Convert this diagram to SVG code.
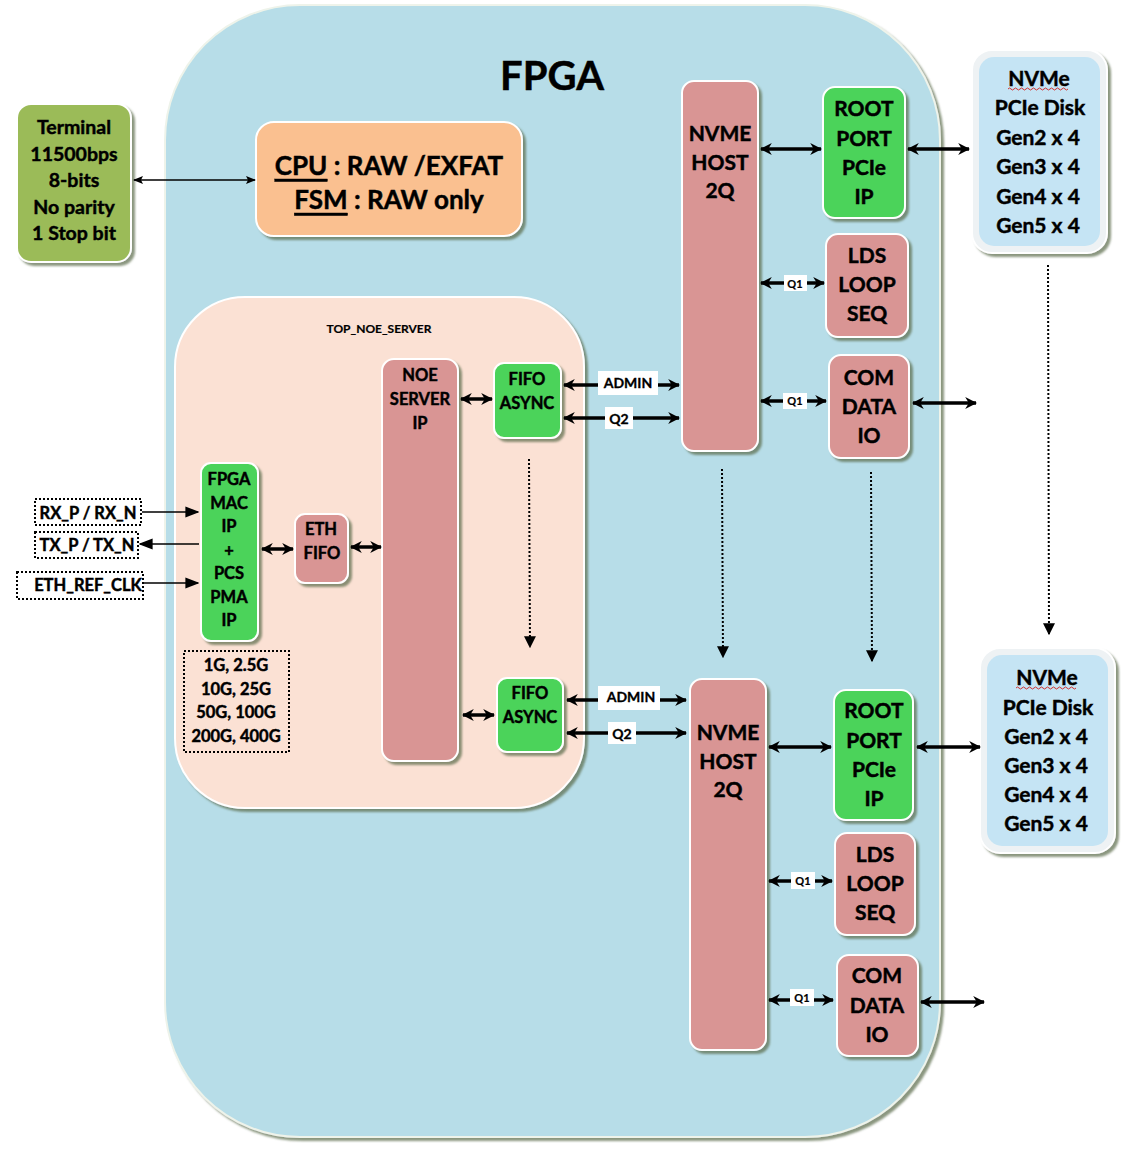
<svg xmlns="http://www.w3.org/2000/svg" width="1141" height="1149" viewBox="0 0 1141 1149">
<style>
text{font-family:Lato,"Open Sans","Liberation Sans",sans-serif;font-weight:bold;fill:#000;stroke:#000;stroke-width:0.45;text-anchor:middle;dominant-baseline:central}
.red{fill:#d99594;stroke:#fff;stroke-width:2}
.grn{fill:#4cd35a;stroke:#fff;stroke-width:2}
.t21{font-size:21px}
.t17{font-size:16.5px}
.t20{font-size:19.5px}
.thick{stroke:#000;stroke-width:3.5;fill:none;marker-start:url(#ah);marker-end:url(#ah)}
.thin{stroke:#000;stroke-width:1.5;fill:none}
.dot{stroke:#000;stroke-width:2;stroke-dasharray:2 2;fill:none;marker-end:url(#dh)}
.lbl{fill:#fff}
.dbox{fill:#fff;stroke:#000;stroke-width:2;stroke-dasharray:2 2}
</style>
<defs>
<filter id="sh" x="-20%" y="-20%" width="140%" height="140%">
<feDropShadow dx="3" dy="3" stdDeviation="1.2" flood-color="#5a6b4a" flood-opacity="0.7"/>
</filter>
<marker id="ah" viewBox="0 0 10 10" refX="9" refY="5" markerWidth="12" markerHeight="12" markerUnits="userSpaceOnUse" orient="auto-start-reverse">
<path d="M0,0 L10,5 L0,10 L3,5 Z" fill="#000"/>
</marker>
<marker id="th" viewBox="0 0 10 10" refX="9" refY="5" markerWidth="10" markerHeight="10" markerUnits="userSpaceOnUse" orient="auto-start-reverse">
<path d="M0,1 L10,5 L0,9 L2,5 Z" fill="#000"/>
</marker>
<marker id="tf" viewBox="0 0 10 10" refX="9" refY="5" markerWidth="14" markerHeight="14" markerUnits="userSpaceOnUse" orient="auto-start-reverse">
<path d="M0,1 L10,5 L0,9 Z" fill="#000"/>
</marker>
<marker id="dh" viewBox="0 0 10 10" refX="9" refY="5" markerWidth="12" markerHeight="12" markerUnits="userSpaceOnUse" orient="auto">
<path d="M0,0 L10,5 L0,10 Z" fill="#000"/>
</marker>
</defs>

<rect width="1141" height="1149" fill="#fff"/>

<g id="fpga">
<rect x="165" y="5" width="775" height="1132" rx="135" ry="135" fill="#b7dde8" stroke="#eef3ea" stroke-width="2" filter="url(#sh)"/>
<text x="552" y="75" style="font-size:40px">FPGA</text>
</g>

<g id="top_noe_server">
<rect x="175" y="297" width="409" height="511" rx="70" ry="70" fill="#fbe1d4" stroke="#fff" stroke-width="2" filter="url(#sh)"/>
<text x="379" y="328" style="font-size:12px;stroke-width:0.2">TOP_NOE_SERVER</text>
</g>

<g id="terminal">
<rect x="17" y="104" width="114" height="158" rx="14" fill="#9bbb59" stroke="#fff" stroke-width="2" filter="url(#sh)"/>
<text x="74" y="126" class="t20">Terminal</text>
<text x="74" y="153" class="t20">11500bps</text>
<text x="74" y="179" class="t20">8-bits</text>
<text x="74" y="206" class="t20">No parity</text>
<text x="74" y="232" class="t20">1 Stop bit</text>
</g>

<g id="cpu">
<rect x="256" y="122" width="266" height="114" rx="18" fill="#fac090" stroke="#fff" stroke-width="2" filter="url(#sh)"/>
<text x="389" y="165" style="font-size:26px"><tspan text-decoration="underline">CPU</tspan> : RAW /EXFAT</text>
<text x="389" y="199" style="font-size:26px"><tspan text-decoration="underline">FSM</tspan> : RAW only</text>
</g>

<g id="nvme_host_1">
<rect x="682" y="81" width="76" height="370" rx="12" class="red" filter="url(#sh)"/>
<text x="720" y="132" class="t21">NVME</text>
<text x="720" y="161" class="t21">HOST</text>
<text x="720" y="189" class="t21">2Q</text>
</g>

<g id="root_port_1">
<rect x="823" y="87" width="82" height="131" rx="12" class="grn" filter="url(#sh)"/>
<text x="864" y="107" class="t21">ROOT</text>
<text x="864" y="137" class="t21">PORT</text>
<text x="864" y="166" class="t21">PCIe</text>
<text x="864" y="195" class="t21">IP</text>
</g>

<g id="nvme_disk_1">
<rect x="972" y="50" width="135" height="203" rx="20" fill="#eef2f4" stroke="#fff" stroke-width="2" filter="url(#sh)"/>
<rect x="979" y="57" width="121" height="189" rx="15" fill="#c5e4f4"/>
<text x="1039" y="77" class="t21">NVMe</text>
<path d="M1008,89 q1.5,-2 3,0 t3,0 t3,0 t3,0 t3,0 t3,0 t3,0 t3,0 t3,0 t3,0 t3,0 t3,0 t3,0 t3,0 t3,0 t3,0 t3,0 t3,0 t3,0 t3,0" fill="none" stroke="#d03030" stroke-width="1"/>
<text x="1040" y="106" class="t21">PCIe Disk</text>
<text x="1038" y="136" class="t21">Gen2 x 4</text>
<text x="1038" y="165" class="t21">Gen3 x 4</text>
<text x="1038" y="195" class="t21">Gen4 x 4</text>
<text x="1038" y="224" class="t21">Gen5 x 4</text>
</g>

<g id="lds_1">
<rect x="826" y="234" width="82" height="103" rx="12" class="red" filter="url(#sh)"/>
<text x="867" y="254" class="t21">LDS</text>
<text x="867" y="283" class="t21">LOOP</text>
<text x="867" y="312" class="t21">SEQ</text>
</g>

<g id="com_1">
<rect x="829" y="355" width="80" height="103" rx="12" class="red" filter="url(#sh)"/>
<text x="869" y="376" class="t21">COM</text>
<text x="869" y="405" class="t21">DATA</text>
<text x="869" y="434" class="t21">IO</text>
</g>

<g id="noe_server">
<rect x="382" y="359" width="76" height="402" rx="12" class="red" filter="url(#sh)"/>
<text x="420" y="375" class="t17">NOE</text>
<text x="420" y="399" class="t17">SERVER</text>
<text x="420" y="423" class="t17">IP</text>
</g>

<g id="fifo_1">
<rect x="494" y="363" width="67" height="75" rx="10" class="grn" filter="url(#sh)"/>
<text x="527" y="379" class="t17">FIFO</text>
<text x="527" y="403" class="t17">ASYNC</text>
</g>

<g id="mac">
<rect x="201" y="463" width="57" height="178" rx="10" class="grn" filter="url(#sh)"/>
<text x="229" y="479" class="t17">FPGA</text>
<text x="229" y="503" class="t17">MAC</text>
<text x="229" y="526" class="t17">IP</text>
<text x="229" y="550" class="t17">+</text>
<text x="229" y="573" class="t17">PCS</text>
<text x="229" y="597" class="t17">PMA</text>
<text x="229" y="620" class="t17">IP</text>
</g>

<g id="eth_fifo">
<rect x="295" y="514" width="53" height="69" rx="10" class="red" filter="url(#sh)"/>
<text x="321" y="529" class="t17">ETH</text>
<text x="322" y="553" class="t17">FIFO</text>
</g>

<g id="rx">
<rect x="35" y="499" width="106" height="26" class="dbox"/>
<text x="88" y="513" class="t17">RX_P / RX_N</text>
</g>
<g id="tx">
<rect x="35" y="532" width="103" height="26" class="dbox"/>
<text x="87" y="545" class="t17">TX_P / TX_N</text>
</g>
<g id="refclk">
<rect x="17" y="572" width="126" height="27" class="dbox"/>
<text x="88" y="585" class="t17">ETH_REF_CLK</text>
</g>

<g id="speeds">
<rect x="184" y="651" width="105" height="101" fill="none" stroke="#000" stroke-width="2" stroke-dasharray="2 2"/>
<text x="236" y="665" class="t17">1G, 2.5G</text>
<text x="236" y="689" class="t17">10G, 25G</text>
<text x="236" y="712" class="t17">50G, 100G</text>
<text x="236" y="736" class="t17">200G, 400G</text>
</g>

<g id="fifo_2">
<rect x="497" y="678" width="66" height="74" rx="10" class="grn" filter="url(#sh)"/>
<text x="530" y="693" class="t17">FIFO</text>
<text x="530" y="717" class="t17">ASYNC</text>
</g>

<g id="nvme_host_2">
<rect x="690" y="679" width="76" height="371" rx="12" class="red" filter="url(#sh)"/>
<text x="728" y="731" class="t21">NVME</text>
<text x="728" y="760" class="t21">HOST</text>
<text x="728" y="788" class="t21">2Q</text>
</g>

<g id="root_port_2">
<rect x="834" y="690" width="79" height="130" rx="12" class="grn" filter="url(#sh)"/>
<text x="874" y="709" class="t21">ROOT</text>
<text x="874" y="739" class="t21">PORT</text>
<text x="874" y="768" class="t21">PCIe</text>
<text x="874" y="797" class="t21">IP</text>
</g>

<g id="nvme_disk_2">
<rect x="980" y="648" width="135" height="205" rx="20" fill="#eef2f4" stroke="#fff" stroke-width="2" filter="url(#sh)"/>
<rect x="987" y="655" width="121" height="191" rx="15" fill="#c5e4f4"/>
<text x="1047" y="676" class="t21">NVMe</text>
<path d="M1016,688 q1.5,-2 3,0 t3,0 t3,0 t3,0 t3,0 t3,0 t3,0 t3,0 t3,0 t3,0 t3,0 t3,0 t3,0 t3,0 t3,0 t3,0 t3,0 t3,0 t3,0 t3,0" fill="none" stroke="#d03030" stroke-width="1"/>
<text x="1048" y="706" class="t21">PCIe Disk</text>
<text x="1046" y="735" class="t21">Gen2 x 4</text>
<text x="1046" y="764" class="t21">Gen3 x 4</text>
<text x="1046" y="793" class="t21">Gen4 x 4</text>
<text x="1046" y="822" class="t21">Gen5 x 4</text>
</g>

<g id="lds_2">
<rect x="835" y="833" width="80" height="102" rx="12" class="red" filter="url(#sh)"/>
<text x="875" y="853" class="t21">LDS</text>
<text x="875" y="882" class="t21">LOOP</text>
<text x="875" y="911" class="t21">SEQ</text>
</g>

<g id="com_2">
<rect x="837" y="955" width="81" height="101" rx="12" class="red" filter="url(#sh)"/>
<text x="877" y="974" class="t21">COM</text>
<text x="877" y="1004" class="t21">DATA</text>
<text x="877" y="1033" class="t21">IO</text>
</g>

<g id="connectors">
<line x1="134" y1="180" x2="255" y2="180" class="thin" marker-start="url(#th)" marker-end="url(#th)"/>
<line x1="761" y1="149" x2="821" y2="149" class="thick"/>
<line x1="908" y1="149" x2="969" y2="149" class="thick"/>
<line x1="761" y1="283" x2="824" y2="283" class="thick"/>
<rect x="784" y="275" width="23" height="16" class="lbl"/>
<text x="795" y="283" style="font-size:11px;stroke-width:0.2">Q1</text>
<line x1="761" y1="401" x2="826" y2="401" class="thick"/>
<rect x="783" y="393" width="24" height="16" class="lbl"/>
<text x="795" y="400" style="font-size:11px;stroke-width:0.2">Q1</text>
<line x1="913" y1="403" x2="976" y2="403" class="thick"/>

<line x1="461" y1="399" x2="492" y2="399" class="thick"/>
<line x1="564" y1="385" x2="679" y2="385" class="thick"/>
<rect x="598" y="371" width="60" height="24" class="lbl"/>
<text x="628" y="382" style="font-size:14px;stroke-width:0.3">ADMIN</text>
<line x1="564" y1="418" x2="679" y2="418" class="thick"/>
<rect x="605" y="407" width="28" height="22" class="lbl"/>
<text x="619" y="418" style="font-size:14px;stroke-width:0.3">Q2</text>

<line x1="142" y1="512" x2="198" y2="512" class="thin" marker-end="url(#tf)"/>
<line x1="199" y1="544" x2="140" y2="544" class="thin" marker-end="url(#tf)"/>
<line x1="144" y1="583" x2="198" y2="583" class="thin" marker-end="url(#tf)"/>
<line x1="262" y1="549" x2="293" y2="549" class="thick"/>
<line x1="351" y1="547" x2="381" y2="547" class="thick"/>

<line x1="463" y1="715" x2="494" y2="715" class="thick"/>
<line x1="567" y1="700" x2="686" y2="700" class="thick"/>
<rect x="598" y="686" width="62" height="24" class="lbl"/>
<text x="631" y="696" style="font-size:14px;stroke-width:0.3">ADMIN</text>
<line x1="567" y1="733" x2="686" y2="733" class="thick"/>
<rect x="608" y="722" width="28" height="22" class="lbl"/>
<text x="622" y="733" style="font-size:14px;stroke-width:0.3">Q2</text>

<line x1="769" y1="747" x2="831" y2="747" class="thick"/>
<line x1="917" y1="747" x2="980" y2="747" class="thick"/>
<line x1="769" y1="881" x2="832" y2="881" class="thick"/>
<rect x="791" y="872" width="24" height="17" class="lbl"/>
<text x="803" y="880" style="font-size:11px;stroke-width:0.2">Q1</text>
<line x1="769" y1="1000" x2="833" y2="1000" class="thick"/>
<rect x="790" y="989" width="24" height="17" class="lbl"/>
<text x="802" y="997" style="font-size:11px;stroke-width:0.2">Q1</text>
<line x1="921" y1="1002" x2="984" y2="1002" class="thick"/>

<line x1="529" y1="459" x2="530" y2="647" class="dot"/>
<line x1="722" y1="469" x2="723" y2="657" class="dot"/>
<line x1="871" y1="472" x2="872" y2="661" class="dot"/>
<line x1="1048" y1="265" x2="1049" y2="634" class="dot"/>
</g>
</svg>
